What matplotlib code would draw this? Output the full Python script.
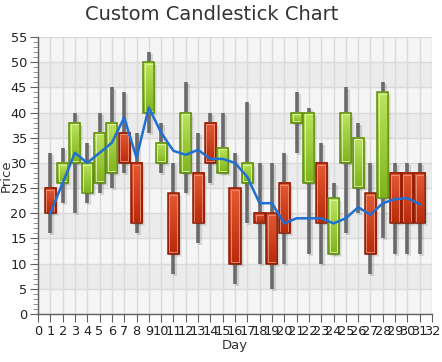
import numpy as np
import matplotlib
matplotlib.use("Agg")
import matplotlib.pyplot as plt
from matplotlib.patches import Rectangle
from matplotlib.ticker import MultipleLocator

days = list(range(1, 32))
opens  = [25, 26, 30, 24, 26, 28, 36, 30, 40, 30, 24, 28, 28, 38, 28, 25, 26, 20, 20, 26, 38, 26, 30, 12, 30, 25, 24, 23, 28, 28, 28]
closes = [20, 30, 38, 30, 36, 38, 30, 18, 50, 34, 12, 40, 18, 30, 33, 10, 30, 18, 10, 16, 40, 40, 18, 23, 40, 35, 12, 44, 18, 18, 18]
highs  = [32, 33, 40, 34, 40, 45, 44, 36, 52, 38, 30, 46, 36, 40, 40, 32, 42, 30, 30, 32, 44, 41, 34, 26, 45, 38, 30, 46, 30, 30, 30]
lows   = [16, 22, 20, 22, 24, 25, 28, 16, 36, 28, 8, 24, 14, 26, 28, 6, 18, 10, 5, 10, 32, 12, 10, 12, 16, 20, 8, 15, 12, 12, 12]
avg    = [20, 26, 32, 30, 32, 34, 39, 31, 41, 36, 32.4, 31.6, 32.6, 30.8, 30.8, 30, 27.2, 22, 22, 18, 19, 19, 19, 18, 19, 21.2, 19.7, 22, 22.8, 23, 21.8]
x_ticks = list(range(0, 33))
y_ticks = list(range(0, 56, 5))

W, H = 442, 362
fig = plt.figure(figsize=(W / 100, H / 100), dpi=100)
fig.patch.set_facecolor("white")
ax = fig.add_axes([38 / W, 1 - 314 / H, (432 - 38) / W, (314 - 37) / H])
ax.set_xlim(0, 32)
ax.set_ylim(0, 55)
ax.set_facecolor("#f5f5f5")

# alternating bands
for y0 in range(5, 55, 10):
    ax.axhspan(y0, y0 + 5, color="#ebebeb", zorder=0, lw=0)

ax.set_xticks(x_ticks)
ax.set_yticks(y_ticks)
ax.yaxis.set_minor_locator(MultipleLocator(1))
ax.grid(True, which="major", color="#dadada", lw=1.0, zorder=0.5)
ax.set_axisbelow(True)

for s in ["top", "right"]:
    ax.spines[s].set_visible(False)
for s in ["left", "bottom"]:
    ax.spines[s].set_color("#606060")
    ax.spines[s].set_linewidth(1.0)
ax.tick_params(axis="both", which="major", length=6, color="#606060", labelsize=9.3, labelcolor="#222222", pad=2)
ax.tick_params(axis="y", which="minor", length=3.5, color="#808080")
ax.set_xlabel("Day", fontsize=9.5, color="#333333", labelpad=1)
ax.set_ylabel("Price", fontsize=9.5, color="#333333")
ax.yaxis.set_label_coords(-0.063, 0.5)

px_x = 32 / 394.0
px_y = 55 / 277.0
bw = 0.9

def body_image(color_top, color_bot):
    c1 = np.array(matplotlib.colors.to_rgb(color_top))
    c2 = np.array(matplotlib.colors.to_rgb(color_bot))
    t = np.linspace(0, 1, 64).reshape(-1, 1, 1)
    img = c1 * (1 - t) + c2 * t
    return img

img_green = body_image("#bde45f", "#7fb31c")
img_red = body_image("#e55a35", "#b82a0a")

for d, o, c, h, l in zip(days, opens, closes, highs, lows):
    up = c >= o
    top, bot = max(o, c), min(o, c)
    # shadow
    for k, a in [(3, 0.06), (2, 0.08), (1, 0.10)]:
        ax.add_patch(Rectangle((d - bw / 2 + k * px_x, bot - k * px_y), bw, top - bot,
                               facecolor="black", alpha=a, lw=0, zorder=2))
    ax.plot([d + 2 * px_x, d + 2 * px_x], [l - 2 * px_y, h - 2 * px_y], color="black", alpha=0.12, lw=3, zorder=2, solid_capstyle="butt")
    # wick
    ax.plot([d, d], [l, h], color="#6a6a6a", lw=2.6, zorder=3, solid_capstyle="butt")
    # body
    img = img_green if up else img_red
    ax.imshow(img, extent=(d - bw / 2, d + bw / 2, bot, top), origin="upper",
              aspect="auto", zorder=4, interpolation="bilinear")
    ec = "#5e8c10" if up else "#8a1c04"
    hl = "#e6f7b8" if up else "#f09a80"
    ax.add_patch(Rectangle((d - bw / 2 + 1.6 * px_x, bot + 1.6 * px_y), bw - 3.2 * px_x,
                           max(top - bot - 3.2 * px_y, 0.01), fill=False, edgecolor=hl,
                           lw=0.7, alpha=0.8, zorder=5))
    ax.add_patch(Rectangle((d - bw / 2, bot), bw, top - bot, fill=False, edgecolor=ec, lw=1.1, zorder=6))

ax.plot(days, avg, color="#1f6fd4", lw=1.8, zorder=7)

fig.text(212 / W, 1 - 15 / H, "Custom Candlestick Chart", ha="center", va="center",
         fontsize=14, color="#333333")

fig.savefig("out.png", dpi=100)
